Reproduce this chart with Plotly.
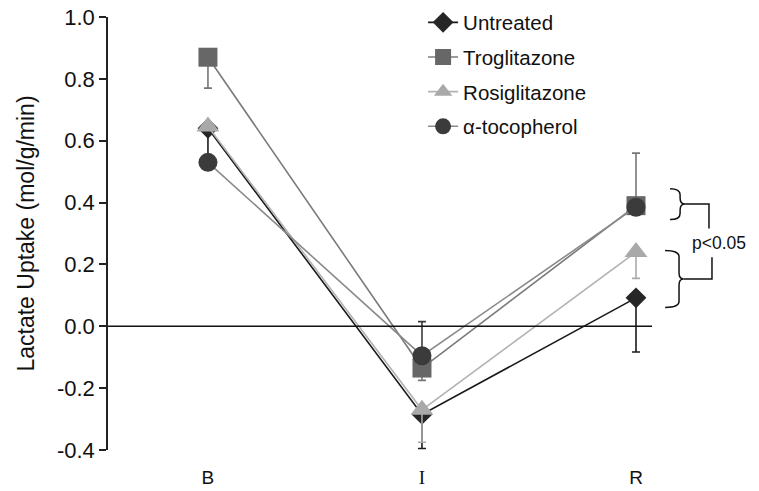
import plotly.graph_objects as go

# ---- data ----
categories = ["B", "I", "R"]
series_names = ["Untreated", "Troglitazone", "Rosiglitazone", "\u03b1-tocopherol"]
untreated = [0.64, -0.285, 0.092]
untreated_plus = [0.0, 0.0, 0.0]
untreated_minus = [0.09, 0.11, 0.175]
troglitazone = [0.87, -0.135, 0.39]
troglitazone_plus = [0.0, 0.0, 0.17]
troglitazone_minus = [0.10, 0.04, 0.0]
rosiglitazone = [0.646, -0.27, 0.24]
rosiglitazone_plus = [0.0, 0.0, 0.0]
rosiglitazone_minus = [0.0, 0.105, 0.085]
tocopherol = [0.53, -0.095, 0.385]
tocopherol_plus = [0.0, 0.11, 0.0]
tocopherol_minus = [0.0, 0.0, 0.0]
y_ticks = [-0.4, -0.2, 0.0, 0.2, 0.4, 0.6, 0.8, 1.0]
y_ticktext = ["-0.4", "-0.2", "0.0", "0.2", "0.4", "0.6", "0.8", "1.0"]
x_ticktext = ["B", '<span style="font-family:Liberation Serif, serif">I</span>', "R"]

xs = list(range(len(categories)))

styles = [
    dict(symbol="diamond", size=16, mcolor="#262626", lcolor="#1a1a1a", ecolor="#1a1a1a"),
    dict(symbol="square", size=19, mcolor="#676767", lcolor="#7a7a7a", ecolor="#777777"),
    dict(symbol="triangle-up", size=20, mcolor="#a9a9a9", lcolor="#b3b3b3", ecolor="#aaaaaa"),
    dict(symbol="circle", size=19, mcolor="#3b3b3b", lcolor="#8a8a8a", ecolor="#3b3b3b"),
]
values = [untreated, troglitazone, rosiglitazone, tocopherol]
pluses = [untreated_plus, troglitazone_plus, rosiglitazone_plus, tocopherol_plus]
minuses = [untreated_minus, troglitazone_minus, rosiglitazone_minus, tocopherol_minus]

fig = go.Figure()
for name, v, p, m, st in zip(series_names, values, pluses, minuses, styles):
    fig.add_trace(go.Scatter(
        x=xs, y=v, name=name, mode="lines+markers", legendgroup=name,
        line=dict(color=st["lcolor"], width=1.6),
        marker=dict(symbol=st["symbol"], size=st["size"], color=st["mcolor"],
                    line=dict(width=0)),
        error_y=dict(type="data", symmetric=False, array=p, arrayminus=m,
                     color=st["ecolor"], thickness=1.6, width=4),
    ))

# zero reference line
fig.add_shape(type="line", xref="x", yref="y", x0=-0.467, x1=2.075, y0=0, y1=0,
              line=dict(color="#111111", width=1.5))


def brace(x0, xm, xt, yt, yb, d=0.02):
    ym = (yt + yb) / 2
    return (f"M {x0},{yt} Q {xm},{yt} {xm},{yt-d} L {xm},{ym+d} "
            f"Q {xm},{ym} {xt},{ym} Q {xm},{ym} {xm},{ym-d} "
            f"L {xm},{yb+d} Q {xm},{yb} {x0},{yb}")


bl = dict(color="#111111", width=1.5)
# upper brace (Troglitazone / alpha-tocopherol at R)
fig.add_shape(type="path", xref="x", yref="y", path=brace(2.159, 2.206, 2.229, 0.445, 0.345), line=bl)
fig.add_shape(type="path", xref="x", yref="y",
              path="M 2.229,0.395 L 2.341,0.395 L 2.341,0.316", line=bl)
# lower brace (Rosiglitazone / Untreated at R)
fig.add_shape(type="path", xref="x", yref="y", path=brace(2.136, 2.201, 2.222, 0.245, 0.061), line=bl)
fig.add_shape(type="path", xref="x", yref="y",
              path="M 2.222,0.153 L 2.355,0.153 L 2.355,0.223", line=bl)
fig.add_annotation(x=2.388, y=0.268, xref="x", yref="y", text="p<0.05", showarrow=False,
                   font=dict(size=17.5, color="#111111", family="Liberation Sans, Arial"))

fig.update_layout(
    width=759, height=491,
    margin=dict(l=108, r=4, t=16, b=41),
    paper_bgcolor="white", plot_bgcolor="white",
    font=dict(family="Liberation Sans, Arial, sans-serif", color="#111111"),
    showlegend=True,
    legend=dict(x=0.487, y=1.031, xanchor="left", yanchor="top",
                font=dict(size=20.5, color="#111111"), tracegroupgap=5,
                bgcolor="rgba(0,0,0,0)", itemwidth=30),
    xaxis=dict(range=[-0.467, 2.556], tickvals=xs, ticktext=x_ticktext,
               showline=False, showgrid=False, zeroline=False, automargin=False,
               ticks="outside", ticklen=10, tickcolor="rgba(0,0,0,0)",
               tickfont=dict(size=19, color="#111111")),
    yaxis=dict(range=[-0.4, 1.0], tickvals=y_ticks, ticktext=y_ticktext,
               showline=True, linecolor="#222222", linewidth=1.5, automargin=False,
               ticks="outside", ticklen=7, tickwidth=1.5, tickcolor="#222222",
               showgrid=False, zeroline=False,
               tickfont=dict(size=22, color="#111111"),
               title=dict(text="Lactate Uptake (mol/g/min)", standoff=16,
                          font=dict(size=23, color="#111111"))),
)

fig.write_html("out.html", config={"displayModeBar": False},
               post_script="document.body.style.margin='0';")
